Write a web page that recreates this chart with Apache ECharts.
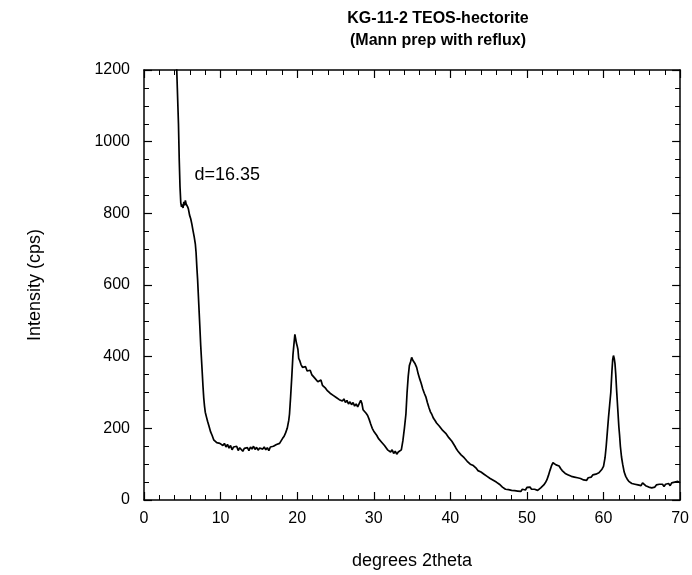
<!DOCTYPE html>
<html><head><meta charset="utf-8">
<script src="https://cdn.jsdelivr.net/npm/echarts@6/dist/echarts.min.js"></script>
<style>html,body{margin:0;padding:0;background:#fff}#c{width:692px;height:575px}</style>
</head><body><div id="c"></div>
<script>
const titleLines = ['KG-11-2 TEOS-hectorite', '(Mann prep with reflux)'];
const xName = 'degrees 2theta';
const yName = 'Intensity (cps)';
const annotation = {text: 'd=16.35', x: 6.6, y: 907};
const xMin = 0, xMax = 70, xStep = 10;
const yMin = 0, yMax = 1200, yStep = 200;

const scanDeg = [4.0,4.2,4.35,4.5,4.6,4.7,4.8,4.9,5.0,5.1,5.2,5.3,5.4,5.5,5.6,5.7,5.8,5.95,6.1,6.25,6.4,6.55,6.7,6.8,6.9,7.0,7.1,7.2,7.3,7.4,7.5,7.6,7.7,7.8,7.9,8.0,8.15,8.3,8.5,8.7,8.9,9.1,9.3,9.5,9.7,9.9,10.1,10.3,
10.5,10.7,10.9,11.1,11.3,11.5,11.7,11.9,12.1,12.3,12.5,12.7,12.9,13.1,13.3,13.5,13.7,13.9,14.1,14.3,14.5,14.7,14.9,15.1,15.3,15.5,15.7,15.9,16.1,16.3,16.5,16.7,16.9,17.1,17.3,17.5,17.7,17.9,18.1,18.3,18.5,18.7,18.9,19.0,19.15,19.3,19.45,19.6,19.7,19.8,19.9,20.0,20.1,20.2,20.35,20.5,20.7,20.9,21.1,21.3,21.5,21.7,21.9,22.1,22.3,22.5,22.7,22.9,23.1,23.3,23.5,23.7,23.9,24.1,24.3,24.5,24.7,24.9,25.1,25.3,25.5,25.7,25.9,26.1,26.3,26.5,26.7,26.9,27.1,27.3,27.5,27.7,27.9,28.1,28.3,28.45,28.6,28.8,29.0,29.2,29.4,29.6,29.8,30.0,30.2,30.4,30.6,30.8,31.0,31.2,31.4,31.6,31.8,32.0,32.2,32.4,32.6,32.8,33.0,33.2,33.4,33.6,33.8,34.0,34.2,34.35,34.5,34.65,34.8,34.95,35.1,35.25,35.4,35.6,35.8,36.0,36.2,36.4,36.6,36.8,37.0,37.2,37.4,37.6,37.8,38.0,38.2,38.4,38.6,38.8,39.0,39.2,39.4,39.6,39.8,40.0,40.2,40.4,40.6,40.8,41.0,41.2,41.4,41.6,41.8,42.0,42.2,42.4,42.6,42.8,43.0,43.2,43.4,43.6,43.8,44.0,44.2,44.4,44.6,44.8,45.0,45.2,45.4,45.6,45.8,46.0,46.2,46.4,46.6,46.8,47.0,47.2,47.4,47.6,47.8,48.0,48.2,48.4,48.6,48.8,49.0,49.2,49.4,49.6,49.8,50.0,50.2,50.4,50.6,50.8,51.0,51.2,51.4,51.6,51.8,52.0,52.2,52.4,52.6,52.8,53.0,53.2,53.4,53.6,53.8,54.0,54.2,54.4,54.6,54.8,55.0,55.2,55.4,55.6,55.8,56.0,56.2,56.4,56.6,56.8,57.0,57.2,57.4,57.6,57.8,58.0,58.2,58.4,58.6,58.8,59.0,59.2,59.4,59.6,59.8,60.0,60.2,60.35,60.5,60.65,60.8,60.95,61.1,61.2,61.3,61.4,61.5,61.6,61.7,61.8,61.9,62.0,62.1,62.2,62.35,62.5,62.7,62.9,63.1,63.3,63.5,63.7,63.9,64.1,64.3,64.5,64.7,64.9,65.1,65.3,65.5,65.7,65.9,66.1,66.3,66.5,66.7,66.9,67.1,67.3,67.5,67.7,67.9,68.1,68.3,68.5,68.7,68.9,69.1,69.3,69.5,69.7,69.9,70.0];

const scanCps = [1500,1250,1150,1050,950,875,830,818,825,815,832,822,836,826,830,818,812,795,785,770,752,735,715,690,650,615,570,525,480,433,395,357,318,285,262,245,232,220,205,190,180,168,170,160,165,158,162,152,
158,148,155,145,152,140,148,143,150,138,146,142,136,144,140,146,138,148,142,150,141,147,139,145,150,142,148,140,146,138,148,143,150,146,155,150,158,165,172,178,188,200,222,240,290,345,405,440,462,450,438,430,420,395,388,378,370,365,372,360,355,362,350,352,340,345,330,328,335,320,318,312,306,310,298,302,292,296,286,290,280,285,276,282,272,278,268,274,266,272,262,268,260,265,278,270,252,248,242,236,225,212,200,192,188,180,172,168,162,158,152,148,140,138,134,140,130,136,128,134,130,140,165,200,240,300,345,375,385,398,390,395,380,370,352,338,325,310,298,288,272,258,246,238,228,222,215,210,205,200,194,190,186,180,174,170,164,160,150,142,136,132,126,122,118,113,108,106,100,103,96,92,88,82,85,78,80,72,74,66,64,60,62,55,52,50,48,44,40,36,34,30,33,29,32,27,30,26,29,25,28,24,30,33,28,35,31,36,30,34,30,32,27,30,34,36,42,48,56,68,82,95,104,102,98,100,95,88,82,78,74,76,70,72,66,70,64,68,62,66,60,63,56,60,55,62,66,64,70,68,72,70,76,80,86,94,118,150,190,230,265,300,360,392,403,395,380,350,310,275,240,205,180,150,120,100,78,66,58,52,50,46,50,44,48,42,46,40,48,44,40,42,36,40,34,38,36,42,38,44,40,44,38,44,42,46,40,48,44,50,46,52,50,48];

const data = scanDeg.map((d, i) => [d, scanCps[i]]);
const FONT = 'Liberation Sans, Arial, Helvetica, sans-serif';

const chart = echarts.init(document.getElementById('c'));
const axLine = () => ({show: true, onZero: false, lineStyle: {color: '#000', width: 1.5}});
const tick = () => ({show: true, inside: true, length: 8, lineStyle: {color: '#000', width: 1.2}});
const minorX = () => ({show: true, splitNumber: 5, length: 5, lineStyle: {color: '#000', width: 1}});
const minorY = () => ({show: true, splitNumber: 4, length: 5, lineStyle: {color: '#000', width: 1}});
const lbl = {color: '#000', fontFamily: FONT, fontSize: 16, formatter: v => String(v)};
const nameStyle = {fontFamily: FONT, fontSize: 18, color: '#000'};

chart.setOption({
  animation: false,
  backgroundColor: '#fff',
  title: {
    text: titleLines.join('\n'), left: 433, top: 3, textAlign: 'center',
    textStyle: {fontFamily: FONT, fontWeight: 'bold', fontSize: 16, color: '#000', lineHeight: 22}
  },
  grid: {left: 144, right: 10, top: 70, bottom: 75},
  xAxis: [
    {type: 'value', min: xMin, max: xMax, interval: xStep, position: 'bottom',
     axisLine: axLine(), axisTick: tick(), minorTick: minorX(), splitLine: {show: false},
     axisLabel: Object.assign({margin: 11}, lbl),
     name: xName, nameLocation: 'middle', nameGap: 52, nameTextStyle: nameStyle},
    {type: 'value', min: xMin, max: xMax, interval: xStep, position: 'top',
     axisLine: axLine(), axisTick: tick(), minorTick: minorX(), splitLine: {show: false},
     axisLabel: {show: false}}
  ],
  yAxis: [
    {type: 'value', min: yMin, max: yMax, interval: yStep, position: 'left',
     axisLine: axLine(), axisTick: tick(), minorTick: minorY(), splitLine: {show: false},
     axisLabel: Object.assign({margin: 14}, lbl),
     name: yName, nameLocation: 'middle', nameGap: 100, nameRotate: 90, nameTextStyle: nameStyle},
    {type: 'value', min: yMin, max: yMax, interval: yStep, position: 'right',
     axisLine: axLine(), axisTick: tick(), minorTick: minorY(), splitLine: {show: false},
     axisLabel: {show: false}}
  ],
  series: [{
    type: 'line', data: data, xAxisIndex: 0, yAxisIndex: 0,
    showSymbol: false, symbol: 'none', clip: true,
    lineStyle: {color: '#000', width: 1.7}
  }]
});

const p = chart.convertToPixel({xAxisIndex: 0, yAxisIndex: 0}, [annotation.x, annotation.y]);
chart.setOption({
  graphic: [{type: 'text', x: p[0], y: p[1],
    style: {text: annotation.text, fill: '#000', font: '18px ' + FONT, textVerticalAlign: 'middle'}}]
});
</script></body></html>
